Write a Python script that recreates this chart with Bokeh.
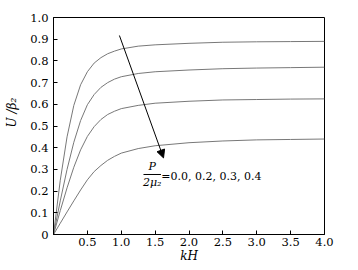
import math
from bokeh.plotting import figure
from bokeh.models import Label, Arrow, NormalHead, FixedTicker
from bokeh.embed import file_html
from bokeh.resources import INLINE

# data
kH = [0, 0.1, 0.2, 0.3, 0.4, 0.5, 0.6, 0.7, 0.8, 0.9, 1.0, 1.25, 1.5, 2.0, 2.5, 3.0, 3.5, 4.0]
u_p00 = [0, 0.25, 0.45, 0.595, 0.69, 0.75, 0.79, 0.815, 0.833, 0.845, 0.855, 0.868, 0.874, 0.881, 0.886, 0.888, 0.889, 0.89]
u_p02 = [0, 0.155, 0.30, 0.425, 0.525, 0.598, 0.645, 0.678, 0.70, 0.716, 0.727, 0.742, 0.75, 0.758, 0.764, 0.767, 0.769, 0.771]
u_p03 = [0, 0.11, 0.215, 0.31, 0.39, 0.452, 0.497, 0.53, 0.553, 0.568, 0.58, 0.595, 0.605, 0.614, 0.62, 0.622, 0.624, 0.625]
u_p04 = [0, 0.052, 0.104, 0.155, 0.205, 0.252, 0.29, 0.318, 0.342, 0.36, 0.375, 0.396, 0.409, 0.423, 0.431, 0.436, 0.438, 0.44]
series = [u_p00, u_p02, u_p03, u_p04]

x_ticks = [0.5, 1.0, 1.5, 2.0, 2.5, 3.0, 3.5, 4.0]
x_tick_labels = ["0.5", "1.0", "1.5", "2.0", "2.5", "3.0", "3.5", "4.0"]
y_ticks = [0, 0.1, 0.2, 0.3, 0.4, 0.5, 0.6, 0.7, 0.8, 0.9, 1.0]
y_tick_labels = ["0", "0.1", "0.2", "0.3", "0.4", "0.5", "0.6", "0.7", "0.8", "0.9", "1.0"]

arrow_start = (0.973, 0.917)
arrow_end = (1.624, 0.353)
annotation = "=0.0, 0.2, 0.3, 0.4"

FONT = "DejaVu Serif"

p = figure(width=358, height=270, x_range=(0, 4.0), y_range=(0, 1.0),
           output_backend="svg", toolbar_location=None,
           min_border_left=53, min_border_right=34, min_border_top=17, min_border_bottom=36)
p.background_fill_color = "white"
p.border_fill_color = "white"
p.outline_line_color = "black"
p.outline_line_width = 1
p.xgrid.visible = False
p.ygrid.visible = False

for ys in series:
    p.line(kH, ys, line_color="#787878", line_width=1.0)

p.xaxis.ticker = FixedTicker(ticks=x_ticks)
p.xaxis.major_label_overrides = {t: l for t, l in zip(x_ticks, x_tick_labels)}
p.yaxis.ticker = FixedTicker(ticks=y_ticks)
p.yaxis.major_label_overrides = {t: l for t, l in zip(y_ticks, y_tick_labels)}

for ax in (p.xaxis[0], p.yaxis[0]):
    ax.axis_line_color = "black"
    ax.major_tick_line_color = "black"
    ax.major_tick_in = 4
    ax.major_tick_out = 0
    ax.minor_tick_line_color = None
    ax.major_label_text_font = FONT
    ax.major_label_text_font_size = "11.5px"
    ax.major_label_text_color = "black"
    ax.axis_label_text_font = FONT
    ax.axis_label_text_font_style = "italic"
    ax.axis_label_text_font_size = "12px"
    ax.axis_label_text_color = "black"

p.xaxis.major_label_standoff = 3
p.yaxis.major_label_standoff = 5
p.xaxis.axis_label = "kH"
p.xaxis.axis_label_standoff = 0
# leading no-break spaces lift the rotated label slightly above centre, as in the reference
p.yaxis.axis_label = "\u00a0" * 7 + "U /β₂"
p.yaxis.axis_label_standoff = 8

p.add_layout(Arrow(end=NormalHead(size=8, fill_color="black", line_color="black"),
                   x_start=arrow_start[0], y_start=arrow_start[1],
                   x_end=arrow_end[0], y_end=arrow_end[1],
                   line_color="black", line_width=1))

# fraction P / 2μ₂
p.add_layout(Label(x=1.457, y=0.285, text="P", text_font=FONT, text_font_style="italic",
                   text_font_size="11px", text_align="center", text_baseline="bottom",
                   text_color="black"))
p.segment(x0=[1.328], y0=[0.2765], x1=[1.586], y1=[0.2765], line_color="black", line_width=1)
p.add_layout(Label(x=1.457, y=0.268, text="2μ₂", text_font=FONT, text_font_style="italic",
                   text_font_size="11px", text_align="center", text_baseline="top",
                   text_color="black"))
p.add_layout(Label(x=1.59, y=0.268, text=annotation, text_font=FONT,
                   text_font_size="11px", text_align="left", text_baseline="middle",
                   text_color="black"))

open("out.html", "w").write(file_html(p, INLINE))
